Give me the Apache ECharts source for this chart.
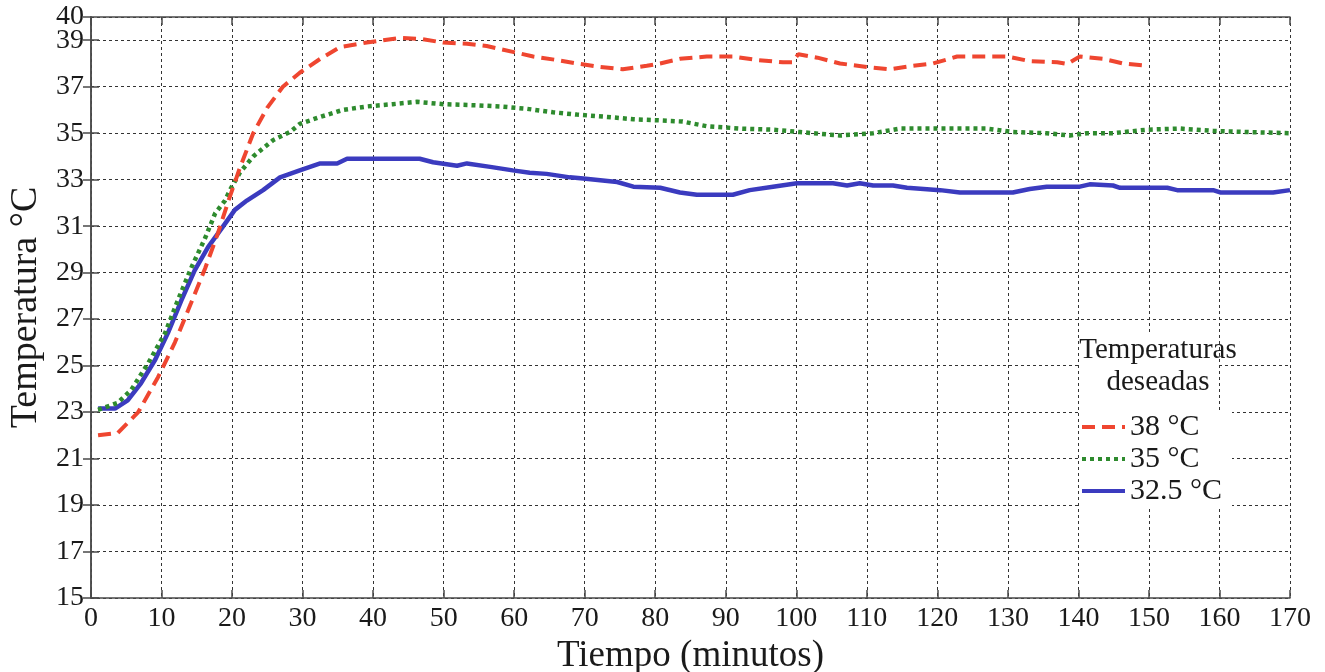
<!DOCTYPE html>
<html>
<head>
<meta charset="utf-8">
<script src="https://cdn.jsdelivr.net/npm/echarts@6/dist/echarts.min.js"></script>
<style>
  html, body { margin: 0; padding: 0; background: #fff; }
  #chart { width: 1325px; height: 672px; }
</style>
</head>
<body>
<div id="chart"></div>
<script>
// valores (tiempo en minutos, temperatura en °C)
const redTime = [1, 3.8, 6.7, 9.5, 11.9, 14.2, 16.2, 18, 19.5, 21.1, 23, 25, 27.2, 29.6, 32.5, 35.3, 39.1, 43.8, 47, 49.9,
  53.3, 56.1, 59.8, 62.7, 66, 68.9, 72.2, 75.4, 78.8, 80.7, 83.5, 87.3, 91, 94.4, 98.1, 99.4, 100.3, 103, 106.2, 110,
  113.3, 116.6, 119.4, 122.8, 127, 129.9, 133.1, 137, 138.4, 140.2, 143.5, 146.3, 149.7];
const redTemp = [22.0, 22.1, 23.0, 24.5, 26.0, 27.7, 29.2, 30.7, 32.1, 33.5, 35.0, 36.1, 37.0, 37.6, 38.2, 38.7, 38.9, 39.1, 39.05, 38.9,
  38.85, 38.75, 38.5, 38.3, 38.15, 38.0, 37.85, 37.75, 37.9, 38.0, 38.2, 38.3, 38.3, 38.15, 38.05, 38.05, 38.4, 38.25, 38.0, 37.85,
  37.75, 37.9, 38.0, 38.3, 38.3, 38.3, 38.1, 38.05, 37.98, 38.3, 38.2, 38.0, 37.9];

const greenTime = [1, 3.8, 5.7, 8.1, 10.5, 12.3, 14.2, 16.2, 17.6, 19, 19.7, 21.1, 23, 25.8, 28.2, 29.6, 32.5, 35.7, 39.1, 42.8,
  46.2, 49.9, 54.7, 58, 61.8, 65.5, 68.9, 73.2, 76.9, 80.7, 83.9, 87.3, 92, 96.7, 100.5, 106.2, 110.9, 114.7, 120.4, 127,
  130.7, 135.5, 138.8, 141.2, 144.9, 149.7, 154.4, 159.1, 163.9, 170];
const greenTemp = [23.1, 23.4, 23.95, 25.1, 26.4, 27.8, 29.2, 30.5, 31.55, 32.1, 32.55, 33.3, 34.0, 34.7, 35.05, 35.4, 35.7, 36.0, 36.15, 36.25,
  36.35, 36.25, 36.2, 36.15, 36.05, 35.9, 35.8, 35.7, 35.6, 35.55, 35.5, 35.3, 35.2, 35.15, 35.05, 34.9, 35.0, 35.2, 35.2, 35.2,
  35.05, 35.0, 34.9, 35.0, 35.0, 35.15, 35.2, 35.1, 35.05, 35.0];

const blueTime = [1, 3.4, 5.2, 7.1, 9.1, 10.9, 12.8, 14.7, 16.6, 18.4, 20.4, 22.1, 24.4, 26.8, 29.6, 32.5, 34.9, 36.3, 41, 46.6,
  48.5, 51.9, 53.3, 56.6, 59.8, 62.2, 64.6, 67.9, 69.8, 74.6, 76.9, 80.7, 83.5, 85.9, 91, 93.4, 96.7, 100.1, 105.2, 107.2,
  109, 110.9, 113.7, 115.7, 120.4, 123.2, 130.7, 133.1, 135.5, 140.2, 141.6, 144.9, 145.9, 152.6, 154, 159.1, 160.1, 167.6, 170];
const blueTemp = [23.15, 23.15, 23.5, 24.25, 25.25, 26.4, 27.8, 29.1, 30.1, 30.85, 31.7, 32.1, 32.55, 33.1, 33.4, 33.7, 33.7, 33.9, 33.9, 33.9,
  33.75, 33.6, 33.7, 33.55, 33.4, 33.3, 33.25, 33.1, 33.05, 32.9, 32.7, 32.65, 32.45, 32.35, 32.35, 32.55, 32.7, 32.85, 32.85, 32.75,
  32.85, 32.75, 32.75, 32.65, 32.55, 32.45, 32.45, 32.6, 32.7, 32.7, 32.8, 32.75, 32.65, 32.65, 32.55, 32.55, 32.45, 32.45, 32.55];

const seriesNames = ['38 °C', '35 °C', '32.5 °C'];
const legendTitle = 'Temperaturas\ndeseadas';
const yTop = 40; // la etiqueta del extremo superior va en su propio eje

const FONT = "'Liberation Serif', 'DejaVu Serif', serif";
const pairs = (xs, ys) => xs.map((x, i) => [x, ys[i]]);

const chart = echarts.init(document.getElementById('chart'));

const gridLine = { show: true, lineStyle: { color: '#333', width: 1, type: [3, 3] } };
const border = { show: true, lineStyle: { color: '#4a4a4a', width: 1.5 } };
const tick = { show: true, inside: true, length: 8, lineStyle: { color: '#4a4a4a', width: 1.5 } };
const label = { color: '#1a1a1a', fontFamily: FONT, fontSize: 28, hideOverlap: false };

chart.setOption({
  animation: false,
  backgroundColor: '#fff',
  grid: { left: 91, right: 35, top: 17, bottom: 74, containLabel: false, outerBoundsMode: 'none' },
  xAxis: [
    { type: 'value', min: 0, max: 170, interval: 10, position: 'bottom',
      name: 'Tiempo (minutos)', nameLocation: 'middle', nameGap: 38,
      nameTextStyle: { color: '#1a1a1a', fontFamily: FONT, fontSize: 37 },
      axisLine: border, axisTick: tick, axisLabel: { ...label, margin: 7, showMinLabel: true, showMaxLabel: true }, splitLine: gridLine },
    { type: 'value', min: 0, max: 170, interval: 10, position: 'top',
      axisLine: border, axisTick: tick, axisLabel: { show: false }, splitLine: { show: false } }
  ],
  yAxis: [
    { type: 'value', min: 15, max: yTop, interval: 2, position: 'left',
      name: 'Temperatura °C', nameLocation: 'middle', nameGap: 44,
      nameTextStyle: { color: '#1a1a1a', fontFamily: FONT, fontSize: 38 },
      axisLine: border, axisTick: tick, axisLabel: { ...label, margin: 7, showMinLabel: true, showMaxLabel: false }, splitLine: gridLine },
    { type: 'value', min: 15, max: yTop, interval: 2, position: 'right',
      axisLine: border, axisTick: tick, axisLabel: { show: false }, splitLine: { show: false } },
    { type: 'value', min: 15, max: yTop, interval: 2, position: 'left',
      axisLine: { show: false }, axisTick: { show: false }, splitLine: { show: false },
      axisLabel: { ...label, margin: 7, showMaxLabel: true, formatter: v => (v === yTop ? String(yTop) : '') } }
  ],
  legend: {
    orient: 'vertical', left: 1080, top: 412, padding: 0,
    itemWidth: 43, itemHeight: 10, itemGap: 2,
    itemStyle: { opacity: 0 },
    lineStyle: { width: 4 },
    textStyle: { color: '#1a1a1a', fontFamily: FONT, fontSize: 30 },
    data: seriesNames, z: 6
  },
  graphic: [
    { type: 'rect', z: 3, shape: { x: 1080, y: 334, width: 138, height: 78 }, style: { fill: '#fff' } },
    { type: 'rect', z: 3, shape: { x: 1080, y: 412, width: 152, height: 94 }, style: { fill: '#fff' } },
    { type: 'text', z: 6, x: 1158, y: 334,
      style: { text: legendTitle, textAlign: 'center', font: `29px ${FONT}`, fill: '#1a1a1a', lineHeight: 32 } }
  ],
  series: [
    { name: seriesNames[0], type: 'line', symbol: 'none', z: 4, data: pairs(redTime, redTemp),
      lineStyle: { color: '#ef4630', width: 4, type: [13, 7] }, itemStyle: { color: '#ef4630' } },
    { name: seriesNames[1], type: 'line', symbol: 'none', z: 3, data: pairs(greenTime, greenTemp),
      lineStyle: { color: '#2e8b2e', width: 4.5, type: [4, 4] }, itemStyle: { color: '#2e8b2e' } },
    { name: seriesNames[2], type: 'line', symbol: 'none', z: 2, data: pairs(blueTime, blueTemp),
      lineStyle: { color: '#3b3bbf', width: 4.5 }, itemStyle: { color: '#3b3bbf' } }
  ]
});
</script>
</body>
</html>
